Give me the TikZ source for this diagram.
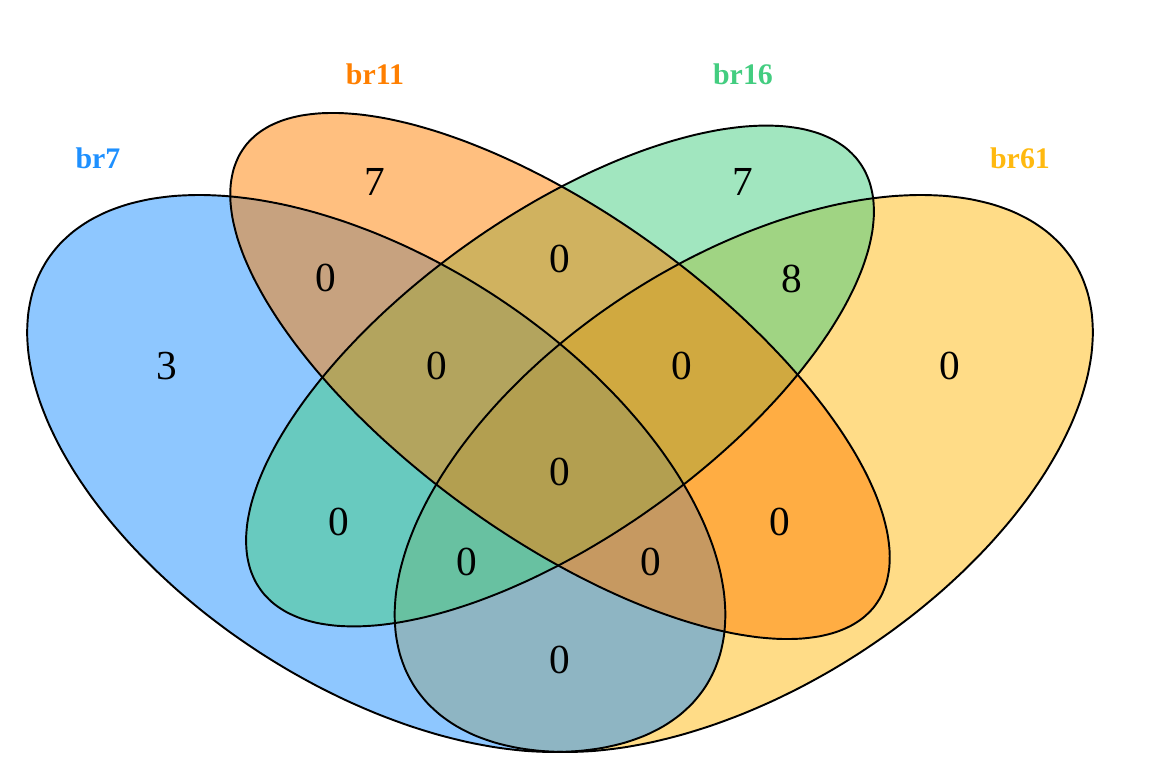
\documentclass[tikz,border=0pt]{standalone}
\usepackage{fontspec}
\setmainfont{Liberation Serif}
\definecolor{brblue}{RGB}{30,144,255}
\definecolor{brorange}{RGB}{255,127,0}
\definecolor{brgreen}{RGB}{67,205,128}
\definecolor{bryellow}{RGB}{255,185,15}
\begin{document}
\begin{tikzpicture}[x=0.02cm,y=-0.02cm,
    setlabel/.style={font=\bfseries\fontsize{17}{20}\selectfont},
    count/.style={font=\fontsize{23.5}{26}\selectfont}]
  \useasboundingbox (0,0) rectangle (1153,776);
  % ellipses: centre, major axis, minor axis (pixels)
  \foreach \cx/\cy/\ax/\ay/\bx/\by/\col in {743.75/473.5/303.1/-241.8/-173.2/-138.2/bryellow,
      376.25/473.5/303.1/241.8/173.2/-138.2/brblue,
      560/376/285.8/-228.0/-129.9/-103.6/brgreen,
      560/376/303.1/241.8/129.9/-103.6/brorange}
    \fill[\col,fill opacity=0.5] plot[smooth cycle,domain=0:355,samples=72]
      ({\cx+\ax*cos(\x)+\bx*sin(\x)},{\cy+\ay*cos(\x)+\by*sin(\x)});
  \foreach \cx/\cy/\ax/\ay/\bx/\by in {376.25/473.5/303.1/241.8/173.2/-138.2,
      560/376/303.1/241.8/129.9/-103.6,
      560/376/285.8/-228.0/-129.9/-103.6,
      743.75/473.5/303.1/-241.8/-173.2/-138.2}
    \draw[line width=1.1pt] plot[smooth cycle,domain=0:355,samples=72]
      ({\cx+\ax*cos(\x)+\bx*sin(\x)},{\cy+\ay*cos(\x)+\by*sin(\x)});
  % set names
  \node[setlabel,text=brblue] (lab7) at (98,158) {br7};
  \node[setlabel,text=brorange] (lab11) at (375,74) {br11};
  \node[setlabel,text=brgreen] (lab16) at (743,74) {br16};
  \node[setlabel,text=bryellow] (lab61) at (1020,158) {br61};
  % counts
  \node[count] (nA) at (167,366) {3};
  \node[count] (nB) at (375,182) {7};
  \node[count] (nC) at (743,182) {7};
  \node[count] (nD) at (950,366) {0};
  \node[count] (nAB) at (326,278) {0};
  \node[count] (nBC) at (560,259) {0};
  \node[count] (nCD) at (792,279) {8};
  \node[count] (nABC) at (437,366) {0};
  \node[count] (nBCD) at (682,366) {0};
  \node[count] (nABCD) at (560,472) {0};
  \node[count] (nAC) at (339,522) {0};
  \node[count] (nBD) at (780,522) {0};
  \node[count] (nACD) at (467,562) {0};
  \node[count] (nABD) at (651,562) {0};
  \node[count] (nAD) at (560,660) {0};
\end{tikzpicture}
\end{document}
